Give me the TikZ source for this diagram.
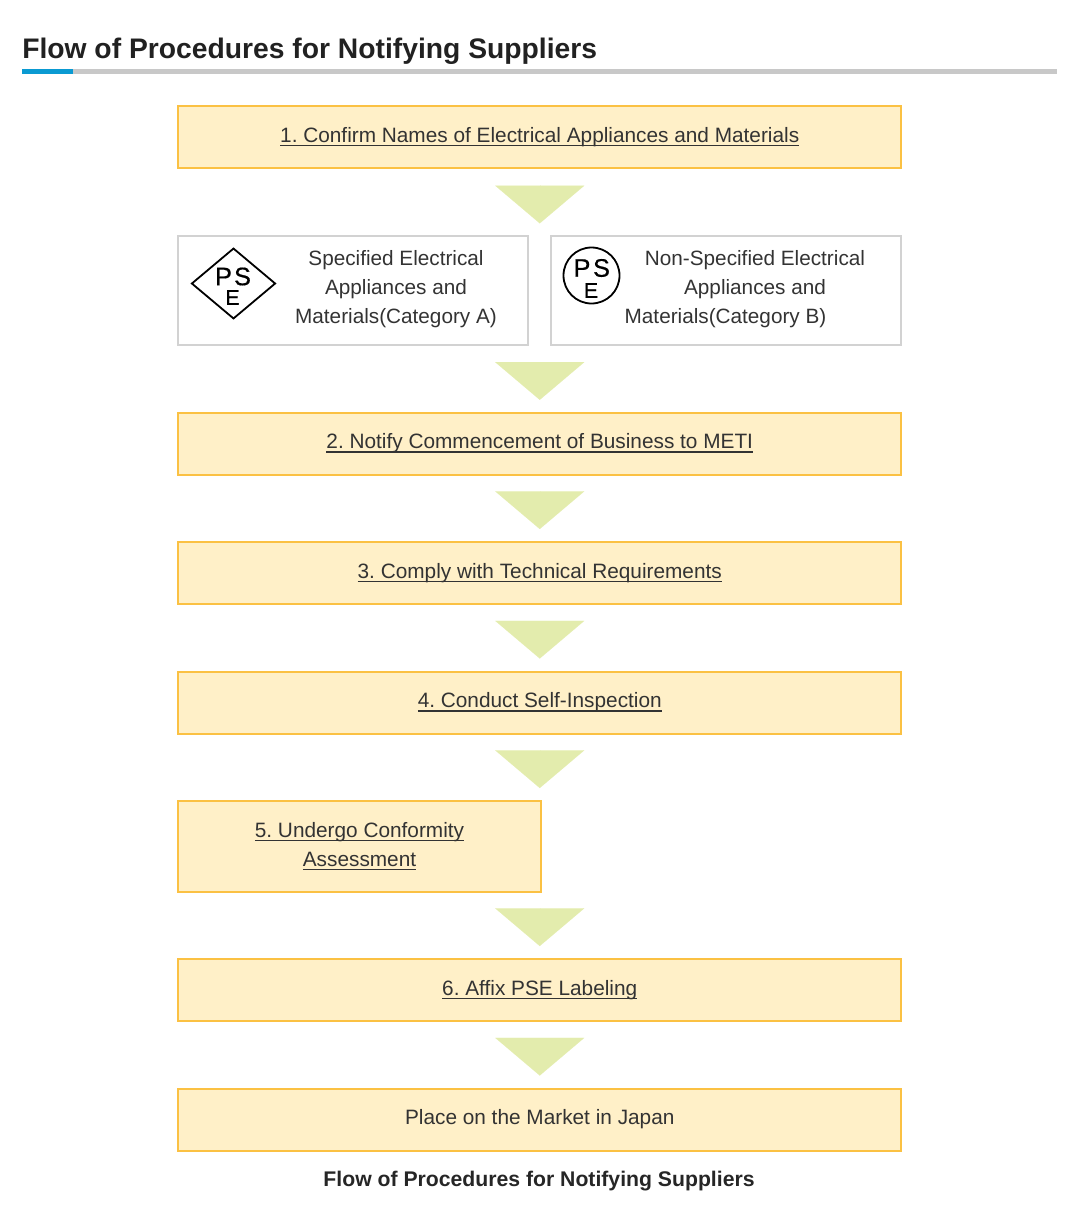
\documentclass[tikz,border=0pt]{standalone}
\usepackage{fontspec}
\setmainfont{Liberation Sans}
\newfontfamily\logofont{Liberation Sans}[FakeBold=0.5]
\usepackage{tikz}
\usetikzlibrary{arrows.meta,shapes.geometric}

\definecolor{stepfill}{HTML}{FFF0C8}
\definecolor{stepline}{HTML}{FBC143}
\definecolor{flowgreen}{HTML}{E3ECAD}
\definecolor{catline}{HTML}{D2D2D2}
\definecolor{rulegray}{HTML}{C8C8C8}
\definecolor{ruleblue}{HTML}{0A9AD2}
\definecolor{inkgray}{HTML}{333333}

\newsavebox{\linkbox}
\newcommand{\steplink}[1]{\sbox{\linkbox}{#1}\rlap{\vrule height -1.9pt depth 2.8pt width \wd\linkbox}\usebox{\linkbox}}
\frenchspacing

\begin{document}
\begin{tikzpicture}[x=0.75pt,y=-0.75pt]

  \tikzstyle{stepbox}=[rectangle,draw=stepline,fill=stepfill,line width=1.5pt,
    text=inkgray,align=center,font=\fontsize{15.6}{21.75}\selectfont,
    minimum height=46.5pt,minimum width=542.25pt]
  \tikzstyle{catbox}=[rectangle,draw=catline,fill=white,line width=1.5pt,
    minimum height=81.75pt,minimum width=262.5pt]
  \tikzstyle{catlabel}=[text=inkgray,align=center,inner sep=0pt,
    font=\fontsize{15.55}{21.75}\selectfont]
  \tikzstyle{logo}=[draw=black,line width=1.35pt,inner sep=0pt]
  \tikzstyle{bigletter}=[inner sep=0pt,text=black,font=\logofont\fontsize{19}{19}\selectfont]
  \tikzstyle{smallletter}=[inner sep=0pt,text=black,font=\logofont\fontsize{16}{16}\selectfont]
  \tikzstyle{flowarrow}=[draw=flowgreen,line width=0.01pt,
    -{Triangle[width=66.75pt,length=28.25pt,fill=flowgreen]}]

  \useasboundingbox (0,0) rectangle (1069,1213);

  %% heading
  \node (title) at (22,51) [anchor=west,inner sep=0pt,text=black!87,
    font=\fontsize{21.2}{21.2}\bfseries\selectfont] {Flow of Procedures for Notifying Suppliers};
  \fill [rulegray] (73,69) rectangle (1057,74);
  \fill [ruleblue] (22,69) rectangle (73,74);

  %% steps
  \node (s1) at (539.75,137)  [stepbox] {\steplink{1. Confirm Names of Electrical Appliances and Materials}};
  \node (s2) at (539.75,443.5) [stepbox] {\steplink{2. Notify Commencement of Business to METI}};
  \node (s3) at (539.75,573)  [stepbox] {\steplink{3. Comply with Technical Requirements}};
  \node (s4) at (539.75,702.5) [stepbox] {\steplink{4. Conduct Self-Inspection}};
  \node (s5) at (359.5,846.5)  [stepbox,minimum width=272.25pt,minimum height=68.25pt]
        {\steplink{5. Undergo Conformity}\\\steplink{Assessment}};
  \node (s6) at (539.75,990)  [stepbox] {\steplink{6. Affix PSE Labeling}};
  \node (market) at (539.75,1119.5) [stepbox] {Place on the Market in Japan};

  %% categories
  \node (catA) at (353,290) [catbox] {};
  \node (catB) at (726,290) [catbox] {};
  \node (catAtext) at (396,289) [catlabel] {Specified Electrical\\Appliances and\\Materials(Category A)};
  \node (catBtext) at (755,289) [catlabel] {Non-Specified Electrical\\Appliances and\\Materials(Category B)\hspace*{44.25pt}};

  \node (markA) at (233.5,283.5) [logo,diamond,aspect=1.2,minimum width=63pt,minimum height=53pt] {};
  \node (markAp) at (223.5,276.5) [bigletter] {P};
  \node (markAs) at (242.5,276.5) [bigletter] {S};
  \node (markAe) at (232.5,297.5) [smallletter] {E};
  \node (markB) at (591.5,275.5) [logo,circle,minimum size=42pt] {};
  \node (markBp) at (582,268) [bigletter] {P};
  \node (markBs) at (601.5,268) [bigletter] {S};
  \node (markBe) at (591,290.5) [smallletter] {E};

  \coordinate (catin)  at (539.75,235);
  \coordinate (catout) at (539.75,346);
  \coordinate (s5in)   at (539.75,800);
  \coordinate (s5out)  at (539.75,892.5);

  \draw [flowarrow,shorten <=12pt,shorten >=8.75pt]  (s1.south) -- (catin);
  \draw [flowarrow,shorten <=12pt,shorten >=8.75pt]  (catout) -- (s2.north);
  \draw [flowarrow,shorten <=12pt,shorten >=9pt]     (s2.south) -- (s3.north);
  \draw [flowarrow,shorten <=12pt,shorten >=9pt]     (s3.south) -- (s4.north);
  \draw [flowarrow,shorten <=12pt,shorten >=9pt]     (s4.south) -- (s5in);
  \draw [flowarrow,shorten <=12pt,shorten >=9pt]     (s5out) -- (s6.north);
  \draw [flowarrow,shorten <=12pt,shorten >=9pt]     (s6.south) -- (market.north);

  \node (caption) at (539,1181) [inner sep=0pt,text=black!85,
    font=\fontsize{15.9}{15.9}\bfseries\selectfont] {Flow of Procedures for Notifying Suppliers};
\end{tikzpicture}
\end{document}
